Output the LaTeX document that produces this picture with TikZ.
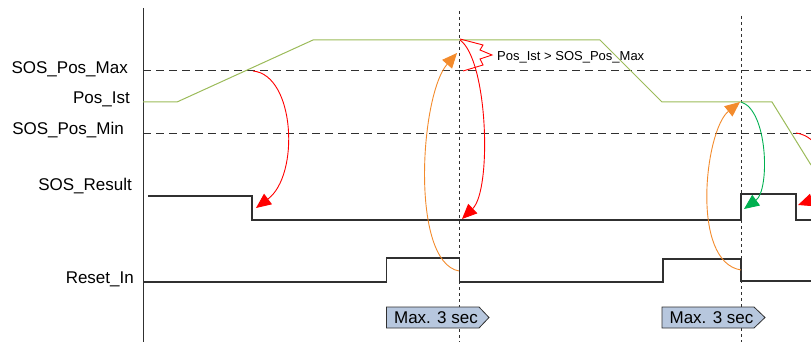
\documentclass[tikz,border=0pt]{standalone}
\usepackage{fontspec}
\setmainfont{Liberation Sans}
\usetikzlibrary{arrows.meta}
\definecolor{posgreen}{HTML}{9BBB59}
\definecolor{arrred}{HTML}{FF0000}
\definecolor{arrorange}{HTML}{F38B2C}
\definecolor{arrgreen}{HTML}{00B050}
\definecolor{boxfill}{HTML}{B7C7DE}
\definecolor{linegray}{HTML}{303030}
\tikzset{
  lbl/.style={anchor=east,inner sep=0pt,font=\fontsize{17}{20}\selectfont},
  sig/.style={draw=linegray,line width=1.1pt},
  posline/.style={draw=posgreen,line width=1pt},
  limit/.style={draw=linegray,line width=0.9pt,dash pattern=on 8pt off 5pt},
  timeline/.style={draw=linegray,line width=0.9pt,dash pattern=on 3pt off 3pt},
  cause/.style={line width=0.9pt,-{Triangle[length=15pt,width=13pt]}},
  boxshape/.style={draw=linegray,fill=boxfill,line width=0.8pt},
  boxtext/.style={inner sep=0pt,font=\fontsize{17}{20}\selectfont}
}
\begin{document}
\begin{tikzpicture}[x=1pt,y=-1pt]
\useasboundingbox (0,0) rectangle (811,342);
\clip (0,0) rectangle (811,342);
% labels
\node[lbl] (lmax) at (128,69) {SOS\_Pos\_Max};
\node[lbl] (list) at (130,99) {Pos\_Ist};
\node[lbl] (lmin) at (124,130) {SOS\_Pos\_Min};
\node[lbl] (lres) at (132,186) {SOS\_Result};
\node[lbl] (lrst) at (134,279) {Reset\_In};
% axis
\coordinate (axtop) at (143,8);
\coordinate (axbot) at (143,342);
\draw[linegray,line width=0.9pt] (axtop) -- (axbot);
% limit lines
\coordinate (maxA) at (143,70); \coordinate (maxB) at (811,70);
\coordinate (minA) at (143,133); \coordinate (minB) at (811,133);
\draw[limit] (maxA) -- (maxB);
\draw[limit] (minA) -- (minB);
% time lines
\coordinate (t1top) at (459.5,11); \coordinate (t1bot) at (459.5,342);
\coordinate (t2top) at (741,16); \coordinate (t2bot) at (741,342);
\draw[timeline] (t1top) -- (t1bot);
\draw[timeline] (t2top) -- (t2bot);
% position
\draw[posline] (143,102) -- (177,102) -- (313,40) -- (600,40) -- (662,102) -- (772,102) -- (811,165);
% SOS result
\draw[sig] (148,196) -- (252,196) -- (252,220) -- (741,220) -- (741,194) -- (796,194) -- (796,220) -- (811,220);
% reset in
\draw[sig] (143,282) -- (386.5,282) -- (386.5,258) -- (459.5,258) -- (459.5,282) -- (663,282) -- (663,259) -- (741,259) -- (741,281) -- (811,281);
% cause arrows
\coordinate (r1s) at (253,71); \coordinate (r1e) at (256,208);
\draw[cause,arrred] (r1s) .. controls (295,75) and (300,175) .. (r1e);
\coordinate (r2s) at (460,40); \coordinate (r2e) at (462,219);
\draw[cause,arrred] (r2s) .. controls (488,60) and (492,190) .. (r2e);
\coordinate (o1s) at (459,271); \coordinate (o1e) at (457,53);
\draw[cause,arrorange] (o1s) .. controls (410,262) and (420,95) .. (o1e);
\coordinate (gs) at (741,102); \coordinate (ge) at (744,209);
\draw[cause,arrgreen] (gs) .. controls (768,110) and (770,190) .. (ge);
\coordinate (o2s) at (741,270); \coordinate (o2e) at (740,102);
\draw[cause,arrorange] (o2s) .. controls (690,262) and (705,130) .. (o2e);
\coordinate (r3s) at (796,133); \coordinate (r3e) at (798,205);
\draw[cause,arrred] (r3s) .. controls (830,138) and (835,192) .. (r3e);
% callout brace
\draw[arrred,line width=0.9pt,line join=miter] (460,39) -- (483,45) -- (480,50) -- (492,55) -- (480,59) -- (483,65) -- (463,71);
\node[anchor=west,inner sep=0pt,font=\fontsize{13}{15}\selectfont] (cond) at (497,57) {Pos\_Ist > SOS\_Pos\_Max};
% boxes
\draw[boxshape] (386.5,307) -- (479,307) -- (489,317.5) -- (479,328) -- (386.5,328) -- cycle;
\node[boxtext] (box1) at (436,317.5) {Max. 3 sec};
\draw[boxshape] (662,307) -- (754,307) -- (765,317.5) -- (754,328) -- (662,328) -- cycle;
\node[boxtext] (box2) at (711.5,317.5) {Max. 3 sec};
\end{tikzpicture}
\end{document}
